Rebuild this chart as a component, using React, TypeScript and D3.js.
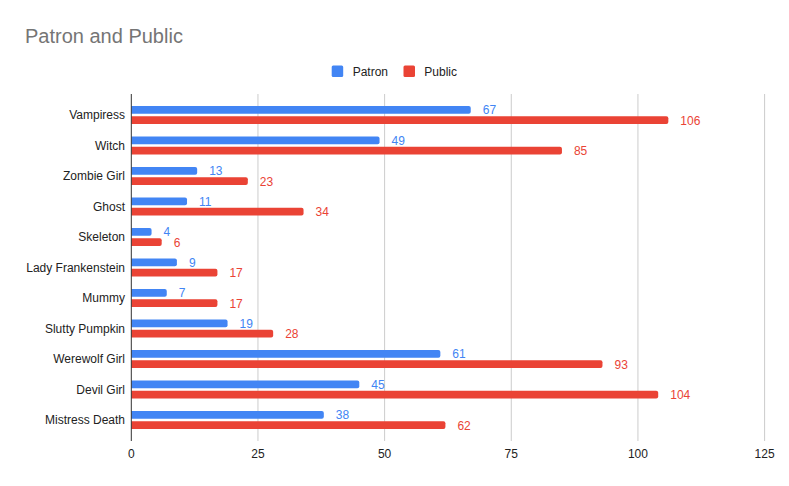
import { useEffect, useRef } from 'react';
import * as d3 from 'd3';

const categories = [
  'Vampiress', 'Witch', 'Zombie Girl', 'Ghost', 'Skeleton', 'Lady Frankenstein',
  'Mummy', 'Slutty Pumpkin', 'Werewolf Girl', 'Devil Girl', 'Mistress Death',
];
const patron = [67, 49, 13, 11, 4, 9, 7, 19, 61, 45, 38];
const publicVals = [106, 85, 23, 34, 6, 17, 17, 28, 93, 104, 62];
const seriesNames = ['Patron', 'Public'];
const seriesColors = ['#4285f4', '#ea4335'];
const xTicks = [0, 25, 50, 75, 100, 125];

const width = 789;
const height = 486;
const FONT = 'Arial, "Liberation Sans", sans-serif';

export default function App() {
  const svgRef = useRef<SVGSVGElement>(null);

  useEffect(() => {
    const svg = d3.select(svgRef.current);
    svg.selectAll('*').remove();

    const plotTop = 94;
    const plotBottom = 441;

    const x = d3.scaleLinear().domain([0, 125]).range([131.3, 764.6]);
    const y = d3.scaleBand<string>().domain(categories).range([99.75, 435.25]).padding(0);
    const yInner = d3.scaleBand<string>().domain(seriesNames).range([-9, 9]).paddingInner(0.252);

    // titulo
    svg.append('text')
      .attr('x', 25).attr('y', 43)
      .attr('font-family', FONT).attr('font-size', 20)
      .attr('fill', '#757575')
      .text('Patron and Public');

    // legenda
    const legendItems = [{ name: 'Patron', sx: 331.7, tx: 352.7 }, { name: 'Public', sx: 403.5, tx: 424.3 }];
    legendItems.forEach((d, i) => {
      svg.append('rect')
        .attr('x', d.sx).attr('y', 65.5).attr('width', 11.5).attr('height', 11.5)
        .attr('rx', 1.5).attr('fill', seriesColors[i]);
      svg.append('text')
        .attr('x', d.tx).attr('y', 71.5)
        .attr('dominant-baseline', 'central')
        .attr('font-family', FONT).attr('font-size', 12).attr('fill', '#222')
        .text(d.name);
    });

    // grade vertical
    svg.append('g')
      .selectAll('line')
      .data(xTicks.filter(t => t > 0))
      .enter()
      .append('line')
      .attr('x1', d => x(d)).attr('x2', d => x(d))
      .attr('y1', plotTop).attr('y2', plotBottom)
      .attr('stroke', '#cccccc').attr('stroke-width', 1);

    // rótulos do eixo x
    svg.append('g')
      .selectAll('text')
      .data(xTicks)
      .enter()
      .append('text')
      .attr('x', d => x(d)).attr('y', 454)
      .attr('text-anchor', 'middle').attr('dominant-baseline', 'central')
      .attr('font-family', FONT).attr('font-size', 12).attr('fill', '#222')
      .text(d => d);

    // rótulos das categorias
    svg.append('g')
      .selectAll('text')
      .data(categories)
      .enter()
      .append('text')
      .attr('x', 125).attr('y', d => y(d)! + y.bandwidth() / 2)
      .attr('text-anchor', 'end').attr('dominant-baseline', 'central')
      .attr('font-family', FONT).attr('font-size', 12).attr('fill', '#222')
      .text(d => d);

    const seriesData = [patron, publicVals];
    const barPath = (x0: number, x1: number, y0: number, h: number) => {
      const r = Math.min(2, (x1 - x0) / 2);
      return `M${x0},${y0}H${x1 - r}Q${x1},${y0} ${x1},${y0 + r}V${y0 + h - r}Q${x1},${y0 + h} ${x1 - r},${y0 + h}H${x0}Z`;
    };

    seriesData.forEach((vals, si) => {
      const name = seriesNames[si];
      const g = svg.append('g');
      g.selectAll('path')
        .data(vals)
        .enter()
        .append('path')
        .attr('d', (v, i) => {
          const cy = y(categories[i])! + y.bandwidth() / 2;
          return barPath(x(0), x(v), cy + yInner(name)!, yInner.bandwidth());
        })
        .attr('fill', seriesColors[si]);

      g.selectAll('text')
        .data(vals)
        .enter()
        .append('text')
        .attr('x', v => x(v) + 12)
        .attr('y', (v, i) => y(categories[i])! + y.bandwidth() / 2 + yInner(name)! + yInner.bandwidth() / 2 + 0.5)
        .attr('dominant-baseline', 'central')
        .attr('font-family', FONT).attr('font-size', 12)
        .attr('fill', seriesColors[si])
        .text(v => v);
    });

    // linha do eixo
    svg.append('line')
      .attr('x1', x(0)).attr('x2', x(0))
      .attr('y1', plotTop).attr('y2', plotBottom)
      .attr('stroke', '#333').attr('stroke-width', 1);
  }, []);

  return (
    <svg
      ref={svgRef}
      width={width}
      height={height}
      style={{ position: 'absolute', top: 0, left: 0, background: '#fff' }}
    />
  );
}
